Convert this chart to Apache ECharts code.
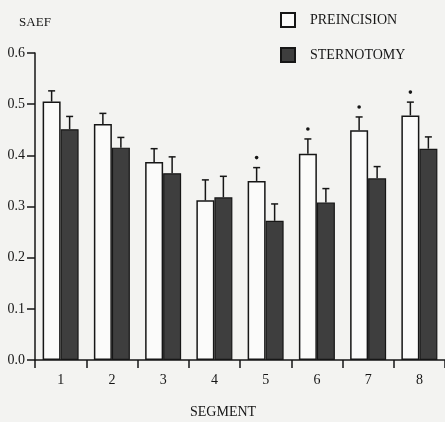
<!DOCTYPE html>
<html>
<head>
<meta charset="utf-8">
<script src="https://cdn.jsdelivr.net/npm/echarts@6/dist/echarts.min.js"></script>
<style>
html,body{margin:0;padding:0;background:#f3f3f1;}
#c{width:445px;height:422px;}
</style>
</head>
<body>
<div id="c"></div>
<script>
var segments = ['1','2','3','4','5','6','7','8'];
var preMean  = [0.505, 0.461, 0.387, 0.312, 0.350, 0.403, 0.449, 0.478];
var preErr   = [0.021, 0.021, 0.026, 0.040, 0.026, 0.029, 0.026, 0.026];
var sterMean = [0.451, 0.415, 0.365, 0.318, 0.272, 0.308, 0.355, 0.413];
var sterErr  = [0.025, 0.020, 0.032, 0.041, 0.033, 0.027, 0.023, 0.023];
var preStar  = [0, 0, 0, 0, 1, 1, 1, 1];
var yTicks   = [0.0, 0.1, 0.2, 0.3, 0.4, 0.5, 0.6];

var INK = '#161616';
var BAR_W = 18;

function errSeries(means, errs, offset, stars) {
  var data = means.map(function (m, i) { return [i, m, errs[i], stars ? stars[i] : 0]; });
  return {
    type: 'custom',
    silent: true,
    z: 5,
    data: data,
    encode: { x: 0, y: 1 },
    renderItem: function (params, api) {
      var base = api.coord([api.value(0), api.value(1)]);
      var top = api.coord([api.value(0), api.value(1) + api.value(2)]);
      var x = base[0] + offset;
      var children = [
        { type: 'line', shape: { x1: x, y1: base[1], x2: x, y2: top[1] },
          style: { stroke: INK, lineWidth: 1.5 } },
        { type: 'line', shape: { x1: x - 3.5, y1: top[1], x2: x + 3.5, y2: top[1] },
          style: { stroke: INK, lineWidth: 1.5 } }
      ];
      if (api.value(3)) {
        children.push({ type: 'circle', shape: { cx: x, cy: top[1] - 10, r: 1.8 },
          style: { fill: INK } });
      }
      return { type: 'group', children: children };
    }
  };
}

var chart = echarts.init(document.getElementById('c'));
chart.setOption({
  backgroundColor: '#f3f3f1',
  animation: false,
  textStyle: { fontFamily: 'Liberation Serif', color: INK },
  grid: { left: 35, right: -3, top: 53, bottom: 62 },
  legend: {
    orient: 'vertical',
    left: 275,
    top: 7,
    itemWidth: 14,
    itemHeight: 14,
    itemGap: 19,
    icon: 'rect',
    textStyle: { fontFamily: 'Liberation Serif', fontSize: 14, color: INK, padding: [0, 0, 0, 10] },
    data: ['PREINCISION', 'STERNOTOMY']
  },
  xAxis: {
    type: 'category',
    data: segments,
    axisLine: { lineStyle: { color: INK, width: 1.5 } },
    axisTick: { show: true, length: 8, lineStyle: { color: INK, width: 1.5 } },
    axisLabel: { fontFamily: 'Liberation Serif', fontSize: 14, color: INK, margin: 13 }
  },
  yAxis: {
    type: 'value',
    min: 0,
    max: 0.6,
    interval: 0.1,
    name: 'SAEF',
    nameLocation: 'end',
    nameGap: 24,
    nameTextStyle: { fontFamily: 'Liberation Serif', fontSize: 13, color: INK, align: 'center' },
    splitLine: { show: false },
    axisLine: { show: true, lineStyle: { color: INK, width: 1.5 } },
    axisTick: { show: true, length: 8, lineStyle: { color: INK, width: 1.5 } },
    axisLabel: {
      fontFamily: 'Liberation Serif', fontSize: 14, color: INK, margin: 10,
      formatter: function (v) {
        var t = yTicks.filter(function (k) { return Math.abs(k - v) < 1e-9; });
        return t.length ? t[0].toFixed(1) : '';
      }
    }
  },
  graphic: [{
    type: 'text',
    left: 190,
    top: 405,
    style: { text: 'SEGMENT', font: '14px "Liberation Serif"', fill: INK }
  }],
  series: [
    {
      name: 'PREINCISION',
      type: 'bar',
      data: preMean,
      barWidth: BAR_W,
      barGap: '0%',
      itemStyle: { color: '#fbfbfa', borderColor: INK, borderWidth: 1.5 }
    },
    {
      name: 'STERNOTOMY',
      type: 'bar',
      data: sterMean,
      barWidth: BAR_W,
      barGap: '0%',
      itemStyle: { color: '#3e3e3e', borderColor: INK, borderWidth: 1.2 }
    },
    errSeries(preMean, preErr, -BAR_W / 2, preStar),
    errSeries(sterMean, sterErr, BAR_W / 2, null)
  ]
});
</script>
</body>
</html>
